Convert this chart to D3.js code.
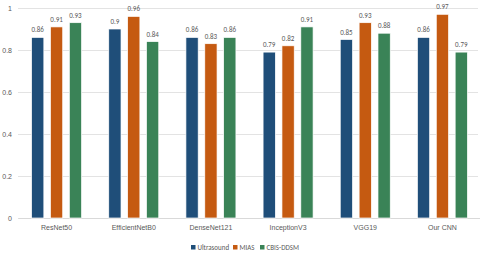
<!DOCTYPE html>
<html>
<head>
<meta charset="utf-8">
<script src="https://cdn.jsdelivr.net/npm/d3@7"></script>
<style>
  body { margin: 0; background: #fff; }
  svg { display: block; font-family: Calibri, Carlito, "Liberation Sans", sans-serif; }
</style>
</head>
<body>
<svg id="chart" width="480" height="255"></svg>
<script>
// chart data
const models = ["ResNet50", "EfficientNetB0", "DenseNet121", "InceptionV3", "VGG19", "Our CNN"];
const seriesNames = ["Ultrasound", "MIAS", "CBIS-DDSM"];
const ultrasound = [0.86, 0.9, 0.86, 0.79, 0.85, 0.86];
const mias = [0.91, 0.96, 0.83, 0.82, 0.93, 0.97];
const cbis = [0.93, 0.84, 0.86, 0.91, 0.88, 0.79];
const yTicks = [0, 0.2, 0.4, 0.6, 0.8, 1];
const colors = ["#1f4e79", "#c55a11", "#3a8357"];

const seriesVals = [ultrasound, mias, cbis];
const rows = models.map((m, i) => ({
  model: m,
  vals: seriesNames.map((s, j) => ({ key: s, value: seriesVals[j][i] }))
}));

const svg = d3.select("#chart");

const x0 = d3.scaleBand().domain(models).range([18, 481]);
const x1 = d3.scaleBand().domain(seriesNames).range([0, 50]).paddingInner(0.35);
const y = d3.scaleLinear().domain([0, 1]).range([218, 8]);
const color = d3.scaleOrdinal().domain(seriesNames).range(colors);

// gridlines + y labels
const yAxis = svg.append("g")
  .attr("transform", "translate(18,0)")
  .call(d3.axisLeft(y).tickValues(yTicks).tickSize(-460).tickFormat(d3.format("~g")));
yAxis.select(".domain").remove();
yAxis.selectAll(".tick line").attr("stroke", "#e3e3e3").attr("stroke-width", 1);
yAxis.selectAll(".tick text")
  .attr("x", -6)
  .attr("fill", "#595959")
  .style("font-size", "7px");

// x labels
const xAxis = svg.append("g")
  .attr("transform", "translate(0,218)")
  .call(d3.axisBottom(x0).tickSize(0));
xAxis.select(".domain").attr("stroke", "#d9d9d9");
xAxis.selectAll(".tick text")
  .attr("y", 7)
  .attr("fill", "#595959")
  .style("font-size", "7px");

// bars
const groups = svg.append("g").selectAll("g")
  .data(rows)
  .join("g")
  .attr("transform", d => `translate(${x0(d.model) + (x0.bandwidth() - 50) / 2},0)`);

groups.selectAll("rect")
  .data(d => d.vals)
  .join("rect")
  .attr("x", d => x1(d.key))
  .attr("y", d => y(d.value))
  .attr("width", x1.bandwidth())
  .attr("height", d => y(0) - y(d.value))
  .attr("fill", d => color(d.key))
  .attr("stroke", "#ffffff")
  .attr("stroke-width", 0.7);

groups.selectAll("text")
  .data(d => d.vals)
  .join("text")
  .attr("x", d => x1(d.key) + x1.bandwidth() / 2)
  .attr("y", d => y(d.value) - 5)
  .attr("text-anchor", "middle")
  .attr("fill", "#595959")
  .style("font-size", "7px")
  .text(d => d3.format("~g")(d.value));

// legend
const legendX = [191, 233, 260];
const legend = svg.append("g").selectAll("g")
  .data(seriesNames)
  .join("g")
  .attr("transform", (d, i) => `translate(${legendX[i]},245)`);
legend.append("rect")
  .attr("width", 4.5).attr("height", 4.5)
  .attr("fill", d => color(d));
legend.append("text")
  .attr("x", 6.5).attr("y", 4.5)
  .attr("fill", "#595959")
  .style("font-size", "7px")
  .text(d => d);
</script>
</body>
</html>
